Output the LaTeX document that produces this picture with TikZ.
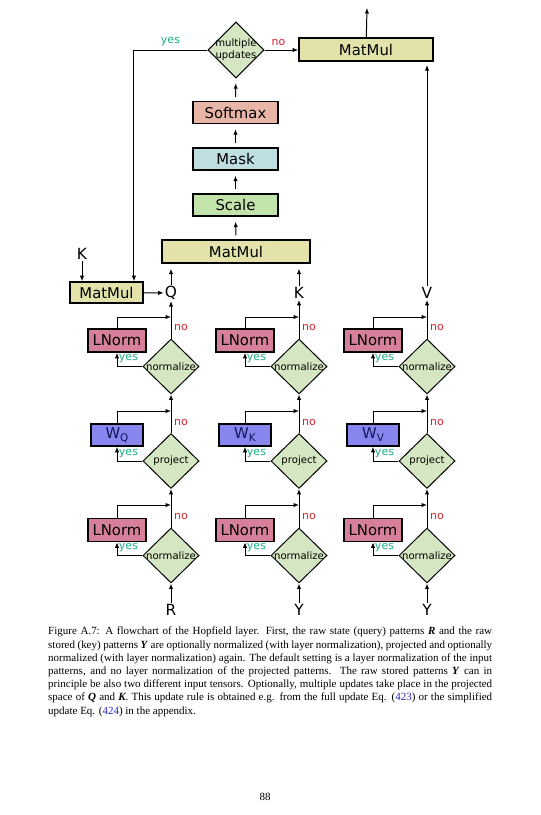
\documentclass[tikz,border=0pt]{standalone}
\usepackage{fontspec}
\setmainfont{Liberation Serif}
\setsansfont{DejaVu Sans}
\usetikzlibrary{shapes.geometric,arrows.meta,positioning}

\definecolor{lnormpink}{RGB}{214,128,156}
\definecolor{wblue}{RGB}{134,134,238}
\definecolor{wtext}{RGB}{20,20,90}
\definecolor{decgreen}{RGB}{213,230,194}
\definecolor{matyellow}{RGB}{226,226,170}
\definecolor{softred}{RGB}{232,182,166}
\definecolor{maskcyan}{RGB}{190,222,226}
\definecolor{scalegreen}{RGB}{194,228,170}
\definecolor{yesgreen}{RGB}{30,170,140}
\definecolor{nored}{RGB}{224,32,40}
\definecolor{refblue}{RGB}{40,40,190}

\tikzset{
  opbox/.style={draw, line width=1.4pt, inner sep=0pt, minimum height=20.9pt,
    font=\sffamily\fontsize{13.5}{15}\selectfont},
  decide/.style={diamond, draw, line width=0.9pt, fill=decgreen, inner sep=0pt,
    aspect=1, minimum width=51pt, minimum height=50pt,
    font=\sffamily\fontsize{9.2}{10}\selectfont},
  var/.style={inner sep=1pt, font=\sffamily\fontsize{14}{15}\selectfont},
  flow/.style={-{Latex[length=5pt,width=4pt]}, line width=0.9pt},
  gap/.style={shorten <=3.5pt, shorten >=4.5pt},
  yeslab/.style={text=yesgreen, font=\sffamily\fontsize{10}{11}\selectfont},
  nolab/.style={text=nored, font=\sffamily\fontsize{10}{11}\selectfont},
}

\begin{document}
\begin{tikzpicture}[x=0.91pt,y=-0.91pt]
\useasboundingbox (0,0) rectangle (540,815);

% three input columns
\foreach \c/\x/\vin/\vout in {1/171/R/Q, 2/299/Y/K, 3/427/Y/V} {
  \node[var] (in\c) at (\x,610) {\vin};
  \node[var] (out\c) at (\x,293) {\vout};

  % first normalization
  \node[decide] (nA\c) at (\x,555.5) {\makebox[0pt]{normalize}};
  \node[opbox, fill=lnormpink, minimum width=52.8pt] (lnA\c) at (\x-54,530) {LNorm};
  \coordinate (jA\c) at (\x,505);

  % projection
  \node[decide] (pj\c) at (\x,461) {\makebox[0pt]{project}};
  \node[opbox, fill=wblue, text=wtext, minimum width=47.3pt, minimum height=20pt]
    (w\c) at (\x-54,435) {W\raisebox{-0.35ex}{\fontsize{9.5}{10}\selectfont\vout}};
  \coordinate (jB\c) at (\x,411);

  % second normalization
  \node[decide] (nC\c) at (\x,366.5) {\makebox[0pt]{normalize}};
  \node[opbox, fill=lnormpink, minimum width=52.8pt] (lnC\c) at (\x-54,340.5) {LNorm};
  \coordinate (jC\c) at (\x,317);

  \draw[flow] (in\c) -- (nA\c);
  \draw[flow] (nA\c.west) -| (lnA\c.south);
  \draw[flow] (lnA\c.north) |- (jA\c);
  \draw[flow] (nA\c.north) -- (pj\c.south);

  \draw[flow] (pj\c.west) -| (w\c.south);
  \draw[flow] (w\c.north) |- (jB\c);
  \draw[flow] (pj\c.north) -- (nC\c.south);

  \draw[flow] (nC\c.west) -| (lnC\c.south);
  \draw[flow] (lnC\c.north) |- (jC\c);
  \draw[flow] (nC\c.north) -- (out\c);

  \path (nA\c.west) ++(-14,-7.5) node[yeslab] {yes};
  \path (pj\c.west) ++(-14,-7.5) node[yeslab] {yes};
  \path (nC\c.west) ++(-14,-7.5) node[yeslab] {yes};
  \path (nA\c.north) ++(10,-11) node[nolab] {no};
  \path (pj\c.north) ++(10,-11) node[nolab] {no};
  \path (nC\c.north) ++(10,-11) node[nolab] {no};
}

% attention part
\node[var] (kin) at (82,254) {K};
\node[opbox, fill=matyellow, minimum width=66.4pt, minimum height=19.1pt] (mmL) at (106.5,292.5) {MatMul};
\node[opbox, fill=matyellow, minimum width=134.7pt] (mmM) at (236,251.5) {MatMul};
\node[opbox, fill=scalegreen, minimum width=77.4pt, minimum height=20pt] (scl) at (235.5,205) {Scale};
\node[opbox, fill=maskcyan, minimum width=77.4pt, minimum height=20pt] (msk) at (235.5,159) {Mask};
\node[opbox, fill=softred, minimum width=77.4pt, minimum height=20pt] (smx) at (235.5,112.5) {Softmax};
\node[decide, minimum width=51pt, minimum height=51pt] (mu) at (236,50)
  {\makebox[0pt]{\shortstack{multiple\\[-1pt]updates}}};
\node[opbox, fill=matyellow, minimum width=122pt] (mmT) at (366,49.5) {MatMul};
\coordinate (res) at (367,8);

\draw[flow] (kin) -- (kin |- mmL.north);
\draw[flow] (mmL) -- (out1);
\draw[flow, shorten >=4.5pt] (out1) -- (out1 |- mmM.south);
\draw[flow, shorten >=4.5pt] (out2) -- (out2 |- mmM.south);
\draw[flow, gap] (mmM) -- (scl);
\draw[flow, gap] (scl) -- (msk);
\draw[flow, gap] (msk) -- (smx);
\draw[flow, gap] (smx) -- (mu);
\draw[flow] (mu.west) -| ([xshift=25pt]mmL.north);
\draw[flow] (mu.east) -- (mu.east -| mmT.west);
\draw[flow] (mmT) -- (res);
\draw[flow, shorten >=3pt] (out3) -- (out3 |- mmT.south);
\path (mu.west) ++(-37,-8) node[yeslab] {yes};
\path (mu.east) ++(14,-7) node[nolab] {no};

% caption
\node[anchor=north west, inner sep=0pt, text width=404pt, align=justify,
  font=\fontsize{10}{12}\selectfont] (cap) at (48,627) {Figure A.7: A flowchart of the Hopfield layer. First, the raw state (query) patterns \textit{\textbf{R}} and the raw\linebreak
stored (key) patterns \textit{\textbf{Y}} are optionally normalized (with layer normalization), projected and optionally\linebreak
normalized (with layer normalization) again. The default setting is a layer normalization of the input\linebreak
patterns, and no layer normalization of the projected patterns. The raw stored patterns \textit{\textbf{Y}} can in\linebreak
principle be also two different input tensors. Optionally, multiple updates take place in the projected\linebreak
space of \textit{\textbf{Q}} and \textit{\textbf{K}}. This update rule is obtained e.g. from the full update Eq. (\textcolor{refblue}{423}) or the simplified\linebreak
update Eq. (\textcolor{refblue}{424}) in the appendix.};
\node[font=\fontsize{10}{12}\selectfont] (pg) at (265,797) {88};

\end{tikzpicture}
\end{document}
